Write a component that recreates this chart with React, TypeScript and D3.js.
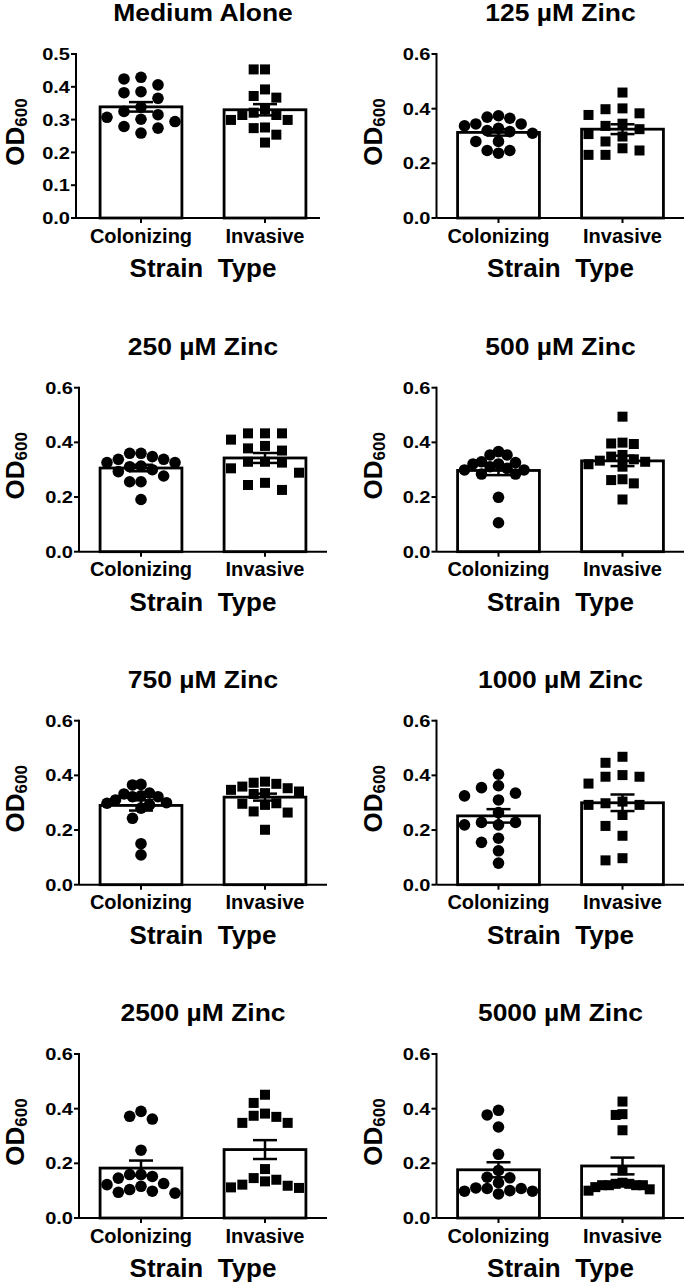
import React from 'react';
import * as d3 from 'd3';

// ---------- data ----------
const categories = ['Colonizing', 'Invasive'];
const panelTitles = [
  'Medium Alone', '125 µM Zinc', '250 µM Zinc', '500 µM Zinc',
  '750 µM Zinc', '1000 µM Zinc', '2500 µM Zinc', '5000 µM Zinc',
];
const yMaxes = [0.5, 0.6, 0.6, 0.6, 0.6, 0.6, 0.6, 0.6];
const yTickSteps = [0.1, 0.2, 0.2, 0.2, 0.2, 0.2, 0.2, 0.2];

const colonizingMedium = [0.429, 0.424, 0.406, 0.385, 0.382, 0.365, 0.338, 0.325, 0.315, 0.307, 0.301, 0.294, 0.279, 0.274, 0.259];
const invasiveMedium = [0.453, 0.453, 0.392, 0.372, 0.367, 0.332, 0.321, 0.314, 0.314, 0.299, 0.299, 0.276, 0.274, 0.254, 0.230];
const colonizing125 = [0.374, 0.369, 0.365, 0.344, 0.344, 0.337, 0.328, 0.320, 0.316, 0.310, 0.280, 0.280, 0.247, 0.247, 0.237];
const invasive125 = [0.459, 0.401, 0.398, 0.383, 0.377, 0.345, 0.337, 0.325, 0.307, 0.298, 0.280, 0.255, 0.247, 0.231, 0.231];
const colonizing250 = [0.360, 0.360, 0.348, 0.338, 0.338, 0.326, 0.326, 0.313, 0.311, 0.300, 0.293, 0.277, 0.256, 0.256, 0.191];
const invasive250 = [0.433, 0.433, 0.433, 0.410, 0.387, 0.378, 0.370, 0.329, 0.329, 0.326, 0.305, 0.289, 0.252, 0.244, 0.226];
const colonizing500 = [0.366, 0.354, 0.354, 0.329, 0.326, 0.321, 0.321, 0.311, 0.305, 0.299, 0.299, 0.284, 0.284, 0.199, 0.106];
const invasive500 = [0.494, 0.399, 0.396, 0.394, 0.354, 0.348, 0.338, 0.333, 0.329, 0.320, 0.311, 0.265, 0.262, 0.250, 0.191];
const colonizing750 = [0.367, 0.365, 0.335, 0.332, 0.325, 0.322, 0.322, 0.310, 0.300, 0.298, 0.292, 0.280, 0.243, 0.150, 0.109];
const invasive750 = [0.377, 0.373, 0.369, 0.359, 0.353, 0.347, 0.341, 0.335, 0.332, 0.298, 0.296, 0.292, 0.268, 0.264, 0.201];
const colonizing1000 = [0.404, 0.362, 0.355, 0.335, 0.325, 0.310, 0.264, 0.228, 0.228, 0.219, 0.219, 0.170, 0.155, 0.124, 0.079];
const invasive1000 = [0.468, 0.446, 0.401, 0.395, 0.395, 0.370, 0.304, 0.298, 0.292, 0.292, 0.255, 0.215, 0.179, 0.097, 0.089];
const colonizing2500 = [0.390, 0.372, 0.362, 0.248, 0.159, 0.159, 0.152, 0.146, 0.126, 0.122, 0.116, 0.104, 0.098, 0.094, 0.091];
const invasive2500 = [0.451, 0.421, 0.382, 0.374, 0.370, 0.348, 0.348, 0.179, 0.146, 0.140, 0.134, 0.122, 0.118, 0.112, 0.110];
const colonizing5000 = [0.394, 0.377, 0.333, 0.233, 0.174, 0.149, 0.147, 0.129, 0.110, 0.108, 0.108, 0.100, 0.098, 0.098, 0.088];
const invasive5000 = [0.426, 0.380, 0.377, 0.321, 0.174, 0.129, 0.125, 0.125, 0.120, 0.120, 0.120, 0.120, 0.113, 0.105, 0.100];

const colonizingSeries = [colonizingMedium, colonizing125, colonizing250, colonizing500, colonizing750, colonizing1000, colonizing2500, colonizing5000];
const invasiveSeries = [invasiveMedium, invasive125, invasive250, invasive500, invasive750, invasive1000, invasive2500, invasive5000];

// ---------- layout ----------
const W = 685;
const H = 1285;
const colStarts = [79, 436.5];
const rowTops = [54, 387.7, 720.7, 1054];
const plotH = 164;
const bandLen = 248;
const FONT = '"Liberation Sans", Arial, Helvetica, sans-serif';

function swarm(values: number[], y: (v: number) => number, minDy: number) {
  const sorted = [...values].sort((a, b) => b - a);
  const placed: { slot: number; py: number; v: number }[] = [];
  for (const v of sorted) {
    const py = y(v);
    let slot = 0;
    for (let k = 0; k < 60; k++) {
      const s = k === 0 ? 0 : k % 2 === 1 ? -Math.ceil(k / 2) : Math.ceil(k / 2);
      if (!placed.some((q) => q.slot === s && Math.abs(q.py - py) < minDy)) {
        slot = s;
        break;
      }
    }
    placed.push({ slot, py, v });
  }
  const maxSlot = d3.max(placed, (p) => Math.abs(p.slot)) || 1;
  const spacing = Math.min(18, 34 / maxSlot);
  return placed.map((p) => ({ ...p, dx: p.slot * spacing }));
}

function Panel({ idx }: { idx: number }) {
  const col = idx % 2;
  const row = Math.floor(idx / 2);
  const xs = colStarts[col];
  const top = rowTops[row];
  const bottom = top + plotH;
  const yMax = yMaxes[idx];
  const y = d3.scaleLinear().domain([0, yMax]).range([bottom, top]);
  const x = d3
    .scaleBand<string>()
    .domain(categories)
    .range([xs, xs + bandLen])
    .paddingInner(0.34)
    .paddingOuter(0.17);
  const bw = x.bandwidth();
  const axisX = idx === 0 ? xs - 3 : xs;
  const axisEnd = idx === 0 ? xs + 241 : Math.min(xs + bandLen, 684);
  const ticks = d3.range(0, yMax + 1e-9, yTickSteps[idx]);
  const fmt = d3.format('.1f');
  const cx = xs + bandLen / 2;
  const series = [colonizingSeries[idx], invasiveSeries[idx]];

  return (
    <g>
      {/* title */}
      <text
        transform={`translate(${cx},${top - 33}) scale(1.15,1)`}
        textAnchor="middle"
        fontSize={23}
        fontWeight="bold"
        fontFamily={FONT}
      >
        {panelTitles[idx]}
      </text>

      {/* bars, error bars, points */}
      {categories.map((c, ci) => {
        const vals = series[ci];
        const mean = d3.mean(vals) as number;
        const sem = (d3.deviation(vals) as number) / Math.sqrt(vals.length);
        const center = (x(c) as number) + bw / 2;
        const pts = swarm(vals, y, 11);
        return (
          <g key={c}>
            <rect
              x={x(c)}
              y={y(mean)}
              width={bw}
              height={bottom - y(mean)}
              fill="#fff"
              stroke="#000"
              strokeWidth={2.8}
            />
            <g stroke="#000" strokeWidth={2.5}>
              <line x1={center} x2={center} y1={y(mean - sem)} y2={y(mean + sem)} />
              <line x1={center - 12} x2={center + 12} y1={y(mean + sem)} y2={y(mean + sem)} />
              <line x1={center - 12} x2={center + 12} y1={y(mean - sem)} y2={y(mean - sem)} />
            </g>
            {pts.map((p, i) =>
              ci === 0 ? (
                <circle key={i} cx={center + p.dx} cy={p.py} r={5.8} fill="#000" />
              ) : (
                <rect key={i} x={center + p.dx - 5} y={p.py - 5} width={10} height={10} fill="#000" />
              )
            )}
          </g>
        );
      })}

      {/* y axis */}
      <line x1={axisX} x2={axisX} y1={top - 1} y2={bottom} stroke="#000" strokeWidth={2} />
      {ticks.map((t) => (
        <g key={t}>
          <line x1={axisX - 5} x2={axisX} y1={y(t)} y2={y(t)} stroke="#000" strokeWidth={2} />
          <text
            transform={`translate(${axisX - 6},${y(t)}) scale(1.18,1)`}
            textAnchor="end"
            dy="0.36em"
            fontSize={17}
            fontWeight="bold"
            fontFamily={FONT}
          >
            {fmt(t)}
          </text>
        </g>
      ))}

      {/* x axis */}
      <line x1={axisX} x2={axisEnd} y1={bottom} y2={bottom} stroke="#000" strokeWidth={2} />
      {categories.map((c) => {
        const center = (x(c) as number) + bw / 2;
        return (
          <g key={c}>
            <line x1={center} x2={center} y1={bottom} y2={bottom + 5} stroke="#000" strokeWidth={2} />
            <text
              x={center}
              y={bottom + 24.5}
              textAnchor="middle"
              fontSize={20}
              fontWeight="bold"
              fontFamily={FONT}
            >
              {c}
            </text>
          </g>
        );
      })}

      {/* axis titles */}
      <text
        x={cx}
        y={bottom + 59}
        textAnchor="middle"
        fontSize={26}
        fontWeight="bold"
        fontFamily={FONT}
        style={{ whiteSpace: 'pre' }}
      >
        {'Strain  Type'}
      </text>
      <text
        transform={`translate(${xs - 55},${(top + bottom) / 2 - 4}) rotate(-90)`}
        textAnchor="middle"
        fontSize={26}
        fontWeight="bold"
        fontFamily={FONT}
      >
        OD
        <tspan fontSize={17} dy={3}>
          600
        </tspan>
      </text>
    </g>
  );
}

export default function App() {
  return (
    <div>
      <style>{`body{margin:0;}`}</style>
      <svg width={W} height={H} viewBox={`0 0 ${W} ${H}`} style={{ display: 'block', background: '#fff' }}>
        <rect width={W} height={H} fill="#fff" />
        {panelTitles.map((_, i) => (
          <Panel key={i} idx={i} />
        ))}
      </svg>
    </div>
  );
}
